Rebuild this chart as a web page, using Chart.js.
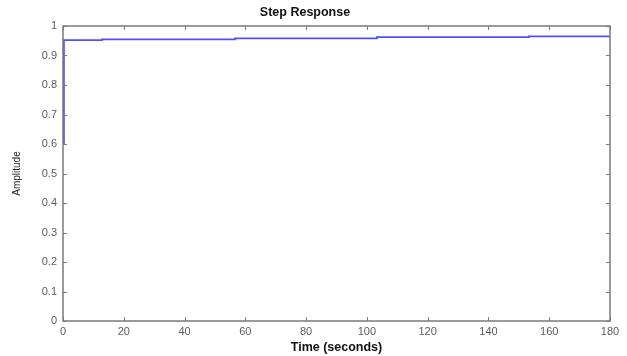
<!DOCTYPE html>
<html>
<head>
<meta charset="utf-8">
<script src="https://cdn.jsdelivr.net/npm/chart.js@4/dist/chart.umd.min.js"></script>
<style>
  html, body { margin: 0; padding: 0; background: #fff; }
  #wrap { width: 627px; height: 356px; }
</style>
</head>
<body>
<div id="wrap"><canvas id="grafico"></canvas></div>
<script>
// step response samples (time in s, amplitude)
const tempos = [0, 0.3, 12.8, 56.6, 103.3, 153.3, 180];
const amplitudes = [0.6, 0.952, 0.955, 0.958, 0.962, 0.965, 0.965];
const xMin = 0, xMax = 180, xStep = 20;
const yMin = 0, yMax = 1, yStep = 0.1;

const corEixo = '#7a7a7a';
const corTexto = '#5c5c5c';

// matlab style box with inward ticks
const caixaPlugin = {
    id: 'caixa',
    afterDatasetsDraw(chart) {
        const ctx = chart.ctx;
        const a = chart.chartArea;
        const sx = chart.scales.x, sy = chart.scales.y;
        ctx.save();
        ctx.strokeStyle = corEixo;
        ctx.lineWidth = 1.5;
        ctx.strokeRect(a.left, a.top, a.right - a.left, a.bottom - a.top);
        ctx.lineWidth = 1;
        const L = 4;
        sx.ticks.forEach(t => {
            const px = Math.round(sx.getPixelForValue(t.value)) + 0.5;
            ctx.beginPath();
            ctx.moveTo(px, a.bottom); ctx.lineTo(px, a.bottom - L);
            ctx.moveTo(px, a.top); ctx.lineTo(px, a.top + L);
            ctx.stroke();
        });
        sy.ticks.forEach(t => {
            const py = Math.round(sy.getPixelForValue(t.value)) + 0.5;
            ctx.beginPath();
            ctx.moveTo(a.left, py); ctx.lineTo(a.left + L, py);
            ctx.moveTo(a.right, py); ctx.lineTo(a.right - L, py);
            ctx.stroke();
        });
        ctx.restore();
    }
};

const ctx = document.getElementById('grafico').getContext('2d');
new Chart(ctx, {
    type: 'line',
    data: {
        datasets: [{
            label: 'Step Response',
            data: tempos.map((t, i) => ({ x: t, y: amplitudes[i] })),
            borderColor: '#4f4fff',
            borderWidth: 1.8,
            pointRadius: 0,
            stepped: 'before',
            fill: false
        }]
    },
    options: {
        responsive: true,
        maintainAspectRatio: false,
        animation: false,
        layout: { padding: { left: 0, right: 17, top: 0, bottom: 0 } },
        plugins: {
            legend: { display: false },
            tooltip: { enabled: false },
            title: {
                display: true,
                text: 'Step Response',
                color: '#111',
                font: { family: 'Liberation Sans', size: 12.5, weight: 'bold' },
                padding: { top: 5, bottom: 6 }
            }
        },
        scales: {
            x: {
                type: 'linear',
                min: xMin, max: xMax,
                grid: { display: false, drawTicks: false },
                border: { display: false },
                ticks: {
                    stepSize: xStep,
                    padding: 4,
                    maxRotation: 0,
                    autoSkip: false,
                    color: corTexto,
                    font: { family: 'Liberation Sans', size: 11 }
                },
                title: {
                    display: true,
                    text: 'Time (seconds)',
                    color: '#111',
                    font: { family: 'Liberation Sans', size: 12.5, weight: 'bold' },
                    padding: { top: 0, bottom: 0.5 }
                },
                afterFit(s) { s.height = 35; }
            },
            y: {
                min: yMin, max: yMax,
                grid: { display: false, drawTicks: false },
                border: { display: false },
                ticks: {
                    stepSize: yStep,
                    padding: 6,
                    color: corTexto,
                    font: { family: 'Liberation Sans', size: 11 },
                    callback: v => String(Number(v.toFixed(1)))
                },
                title: {
                    display: true,
                    text: 'Amplitude',
                    color: '#222',
                    font: { family: "'Liberation Sans Narrow', 'Liberation Sans'", size: 10 },
                    padding: { top: 11, bottom: 0 }
                },
                afterFit(s) { s.width = 63; }
            }
        }
    },
    plugins: [caixaPlugin]
});
</script>
</body>
</html>
